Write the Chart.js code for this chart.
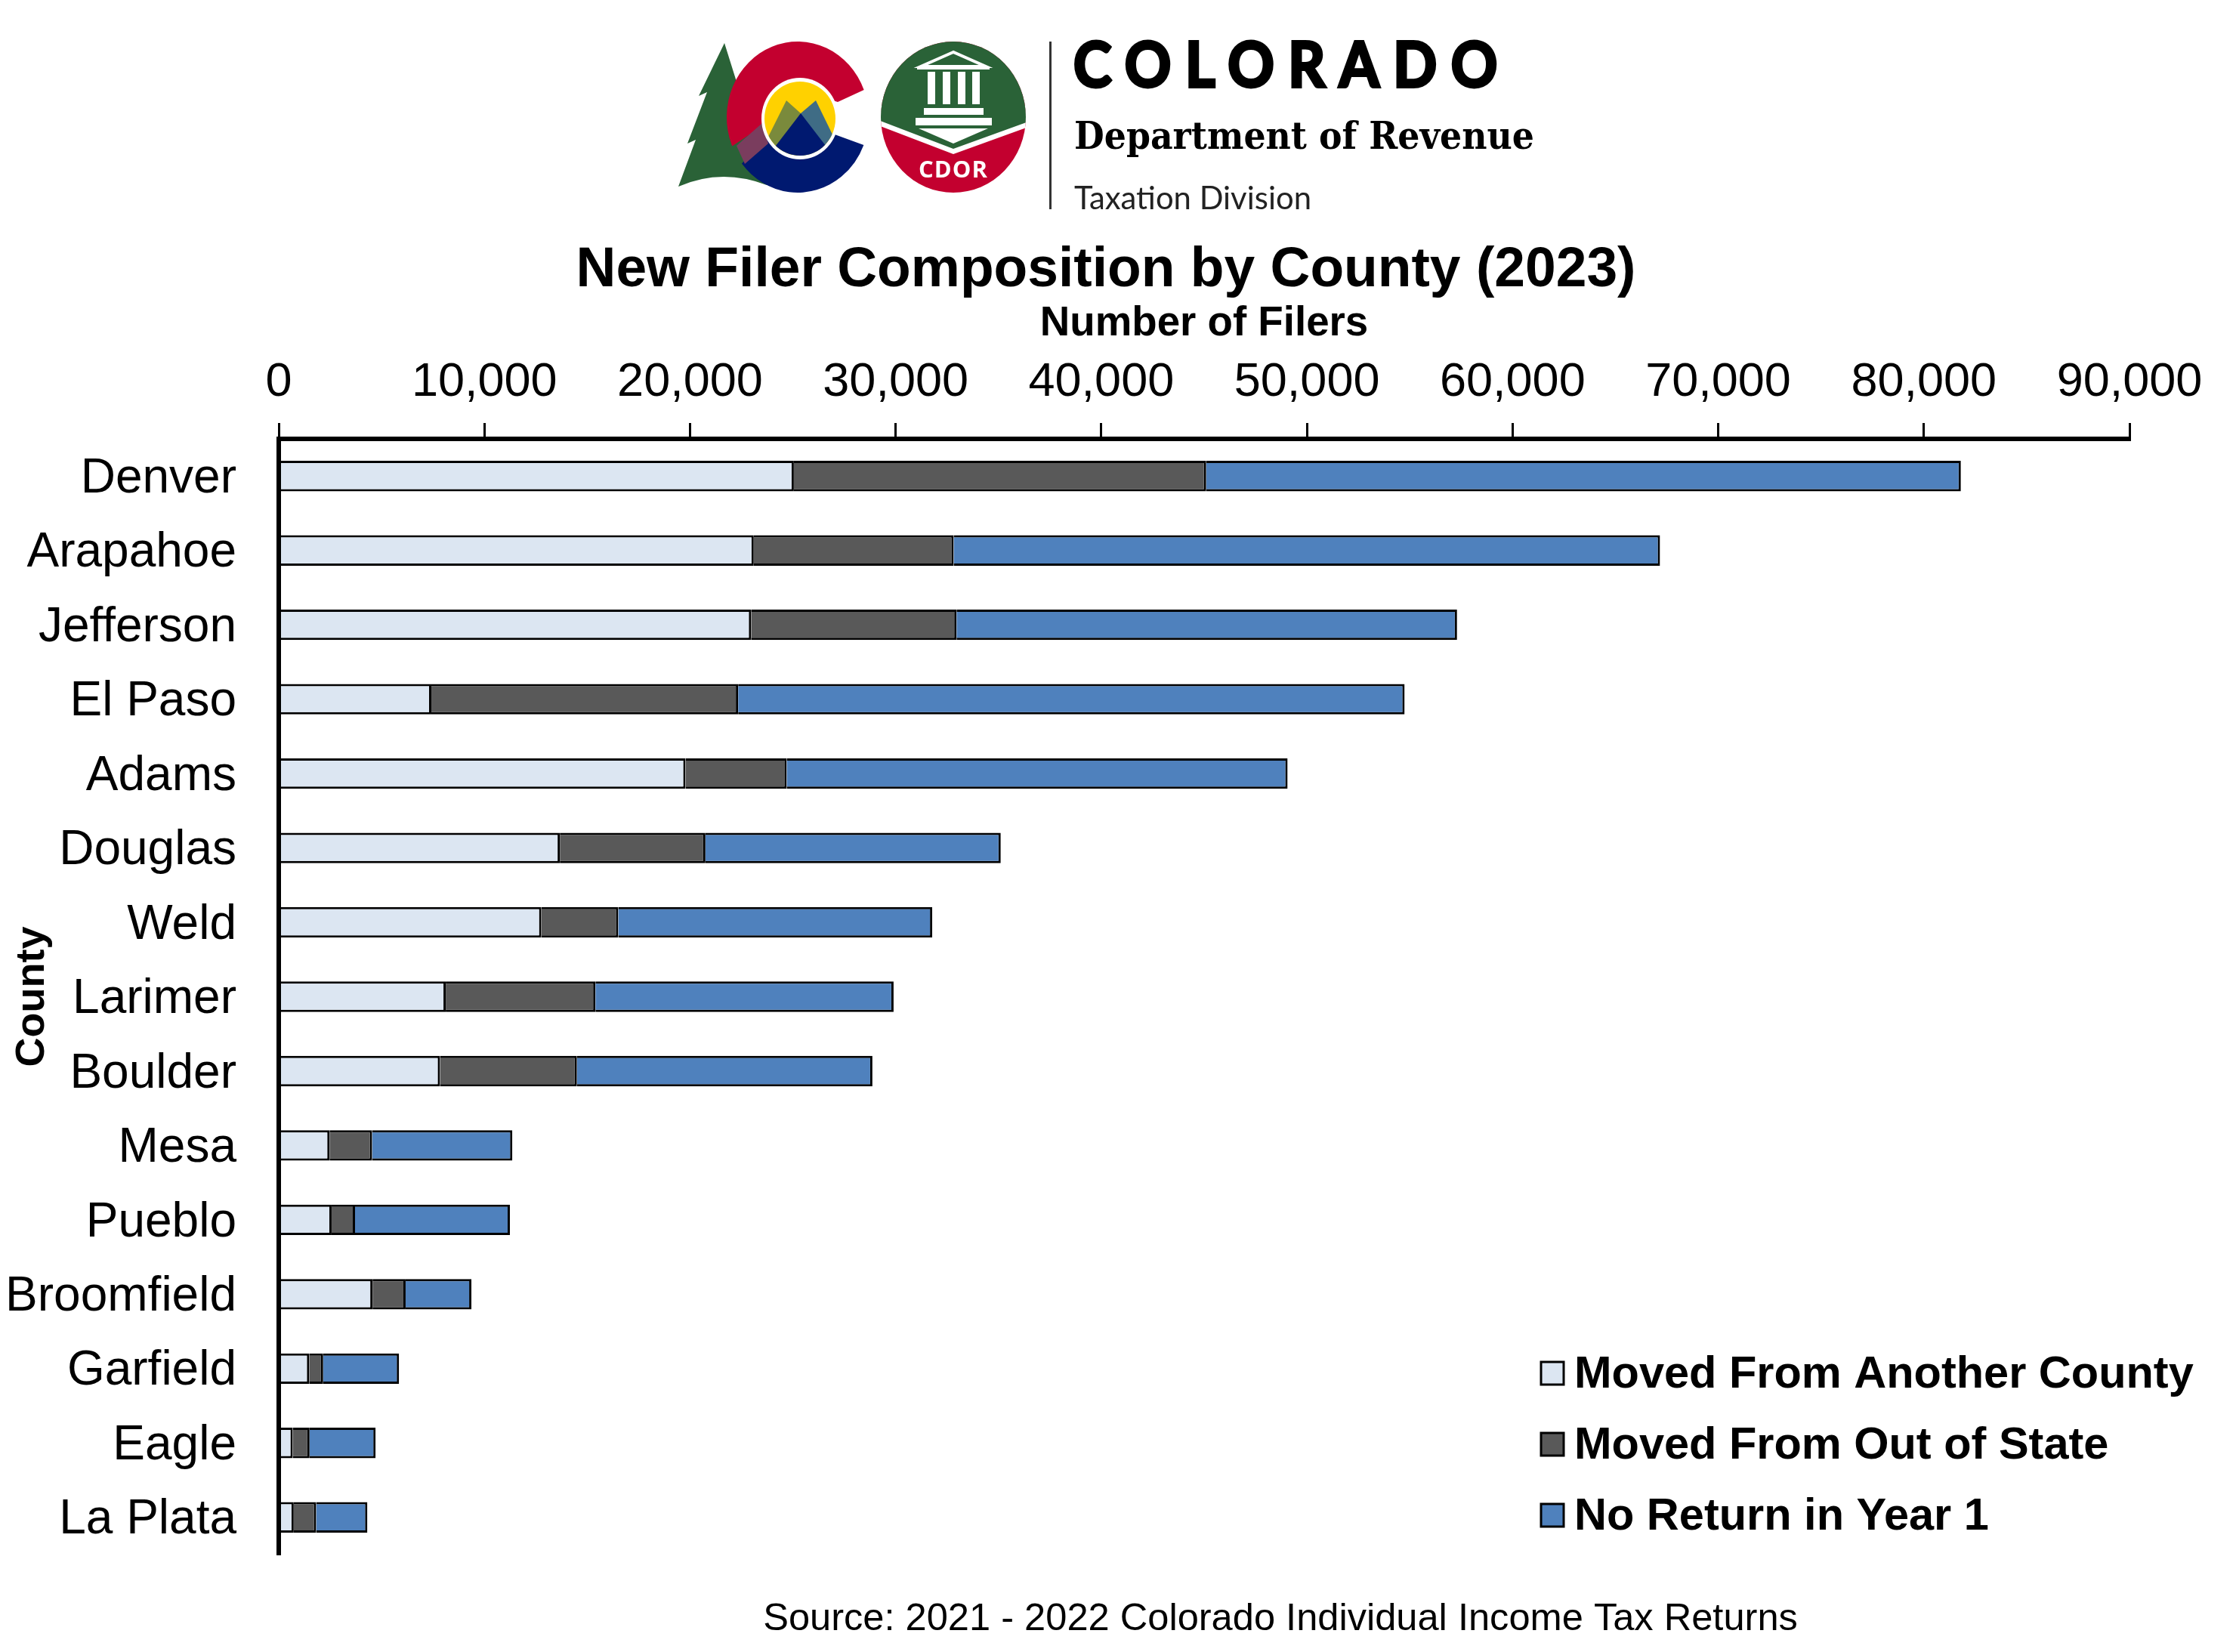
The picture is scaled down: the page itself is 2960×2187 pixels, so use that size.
<!DOCTYPE html>
<html>
<head>
<meta charset="utf-8">
<title>New Filer Composition by County (2023)</title>
<script src="https://cdn.jsdelivr.net/npm/chart.js@4"></script>
<style>
  html, body { margin: 0; padding: 0; background: #fff; }
  canvas { display: block; }
</style>
</head>
<body>
<canvas id="myChart" width="2960" height="2187"></canvas>
<script>
const counties = ['Denver', 'Arapahoe', 'Jefferson', 'El Paso', 'Adams', 'Douglas', 'Weld', 'Larimer', 'Boulder', 'Mesa', 'Pueblo', 'Broomfield', 'Garfield', 'Eagle', 'La Plata'];
const movedCounty = [25050, 23100, 22970, 7420, 19780, 13670, 12770, 8120, 7840, 2470, 2570, 4560, 1480, 680, 730];
const movedState = [20050, 9720, 9990, 14920, 4920, 7080, 3740, 7280, 6660, 2070, 1140, 1610, 680, 820, 1090];
const noReturn = [36700, 34350, 24340, 32410, 24360, 14360, 15270, 14500, 14370, 6820, 7530, 3200, 3690, 3210, 2490];

const sans = '"Liberation Sans", Arial, sans-serif';
const sourceText = 'Source: 2021 - 2022 Colorado Individual Income Tax Returns';

function poly(c, color, pts) {
  c.fillStyle = color;
  c.beginPath();
  pts.forEach((p, i) => i ? c.lineTo(p[0], p[1]) : c.moveTo(p[0], p[1]));
  c.closePath();
  c.fill();
}

function drawLogo(c) {
  c.save();
  // tree
  c.fillStyle = '#2a6237';
  c.beginPath();
  c.moveTo(959, 57);
  c.lineTo(985, 140);
  c.lineTo(1015, 245);
  c.quadraticCurveTo(955, 222, 898, 247);
  c.lineTo(921, 185);
  c.lineTo(910, 190);
  c.lineTo(936, 122);
  c.lineTo(925, 127);
  c.closePath();
  c.fill();
  // the C: red on top, navy under
  c.fillStyle = '#c3002f';
  c.beginPath();
  c.ellipse(1056, 155, 94, 100, 0, -0.369, 2.747, true);
  c.lineTo(1012, 165);
  c.lineTo(1060, 120);
  c.lineTo(1109, 135);
  c.closePath();
  c.fill();
  c.fillStyle = '#001970';
  c.beginPath();
  c.ellipse(1056, 155, 94, 100, 0, 2.478, 0.378, true);
  c.lineTo(1105, 178);
  c.lineTo(1017, 180);
  c.closePath();
  c.fill();
  poly(c, '#7a3d5e', [[1009, 163], [975, 193], [986, 217], [1017, 190]]);
  // sun and mountains inside the white ring
  c.fillStyle = '#fff';
  c.beginPath();
  c.ellipse(1059, 157, 51, 54, 0, 0, Math.PI * 2);
  c.fill();
  c.save();
  c.beginPath();
  c.ellipse(1059, 157, 47, 49, 0, 0, Math.PI * 2);
  c.clip();
  c.fillStyle = '#ffd100';
  c.fillRect(1000, 100, 120, 120);
  poly(c, '#7a8a3c', [[1041, 133], [1000, 215], [1060, 215], [1060, 150]]);
  poly(c, '#3f6c85', [[1080, 133], [1060, 150], [1060, 215], [1120, 215]]);
  poly(c, '#001970', [[1060, 150], [1010, 215], [1110, 215]]);
  c.restore();
  // CDOR badge
  c.save();
  c.beginPath();
  c.ellipse(1262, 155, 96, 100, 0, 0, Math.PI * 2);
  c.clip();
  c.fillStyle = '#c3002f';
  c.fillRect(1160, 50, 210, 210);
  poly(c, '#fff', [[1160, 165], [1262, 204], [1370, 165], [1370, 140], [1160, 140]]);
  poly(c, '#2a6237', [[1160, 50], [1370, 50], [1370, 158], [1262, 197], [1160, 158]]);
  c.restore();
  // building
  c.strokeStyle = '#fff';
  c.lineWidth = 4;
  c.beginPath();
  c.moveTo(1262, 69); c.lineTo(1219, 88); c.lineTo(1305, 88); c.closePath();
  c.stroke();
  c.fillStyle = '#fff';
  c.fillRect(1214, 88, 96, 4);
  [1233, 1253, 1273, 1292].forEach(x => c.fillRect(x - 5, 95, 10, 43));
  c.fillRect(1223, 143, 79, 9);
  c.fillRect(1212, 156, 101, 10);
  poly(c, '#fff', [[1216, 170], [1308, 170], [1262, 190]]);
  c.textAlign = 'center';
  c.textBaseline = 'alphabetic';
  c.font = 'bold 31px "Open Sans", sans-serif';
  c.letterSpacing = '1px';
  c.fillText('CDOR', 1262, 235, 96);
  // separator and wordmark
  c.fillStyle = '#333';
  c.fillRect(1389, 55, 3, 222);
  c.fillStyle = '#000';
  c.strokeStyle = '#000';
  c.textAlign = 'left';
  c.font = 'bold 82px Lato, sans-serif';
  c.letterSpacing = '20px';
  c.lineWidth = 4;
  c.fillText('COLORADO', 1421, 115, 580);
  c.strokeText('COLORADO', 1421, 115, 580);
  c.letterSpacing = '0px';
  c.font = 'bold 50px "DejaVu Serif", serif';
  c.fillText('Department of Revenue', 1422, 197, 609);
  c.fillStyle = '#222';
  c.font = '42px Lato, sans-serif';
  c.fillText('Taxation Division', 1422, 277, 314);
  c.restore();
}

const extras = {
  id: 'extras',
  afterLayout(chart) {
    // title sits a little left of the page centre
    chart.titleBlock.left = 0;
    chart.titleBlock.right = 2928;
  },
  afterDraw(chart) {
    const c = chart.ctx;
    drawLogo(c);
    // legend, taken from the datasets
    c.save();
    c.textBaseline = 'middle';
    c.textAlign = 'left';
    chart.data.datasets.forEach((ds, i) => {
      const y = 1818 + i * 94;
      c.fillStyle = ds.backgroundColor;
      c.fillRect(2040, y - 15, 30, 30);
      c.strokeStyle = '#000';
      c.lineWidth = 3;
      c.strokeRect(2040, y - 15, 30, 30);
      c.fillStyle = '#000';
      c.font = 'bold 59.5px ' + sans;
      c.fillText(ds.label, 2084, y + 3);
    });
    // source note
    c.font = '50.6px ' + sans;
    c.textAlign = 'center';
    c.fillText(sourceText, 1695, 2144);
    c.restore();
  }
};

const ctx = document.getElementById('myChart').getContext('2d');
const myChart = new Chart(ctx, {
  type: 'bar',
  plugins: [extras],
  data: {
    labels: counties,
    datasets: [
      { label: 'Moved From Another County', data: movedCounty, backgroundColor: '#dce6f2' },
      { label: 'Moved From Out of State', data: movedState, backgroundColor: '#595959' },
      { label: 'No Return in Year 1', data: noReturn, backgroundColor: '#4f81bd' }
    ].map(d => ({ ...d, borderColor: '#000', borderWidth: 3, barPercentage: 0.41, categoryPercentage: 1 }))
  },
  options: {
    indexAxis: 'y',
    responsive: false,
    animation: false,
    color: '#000',
    layout: { padding: { top: 0, left: 0, right: 141, bottom: 129 } },
    plugins: {
      legend: { display: false },
      tooltip: { enabled: false },
      title: {
        display: true,
        text: 'New Filer Composition by County (2023)',
        color: '#000',
        font: { family: sans, size: 73.2, weight: 'bold', lineHeight: 1 },
        padding: { top: 322, bottom: 0 }
      }
    },
    scales: {
      x: {
        position: 'top',
        stacked: true,
        min: 0,
        max: 90000,
        afterFit: s => { s.height = 185.8; },
        title: {
          display: true,
          text: 'Number of Filers',
          color: '#000',
          font: { family: sans, size: 54.7, weight: 'bold' },
          padding: { top: 1, bottom: 0 }
        },
        border: { color: '#000', width: 6, z: 1 },
        grid: { drawOnChartArea: false, color: '#000', tickLength: 21, lineWidth: 3 },
        ticks: {
          stepSize: 10000,
          color: '#000',
          maxRotation: 0,
          autoSkip: false,
          padding: 16,
          font: { family: sans, size: 63 },
          callback: v => v.toLocaleString('en-US')
        }
      },
      y: {
        stacked: true,
        afterFit: s => { s.width = 369; },
        title: {
          display: true,
          text: 'County',
          color: '#000',
          font: { family: sans, size: 54, weight: 'bold' },
          padding: { top: 11, bottom: 0 }
        },
        border: { color: '#000', width: 6, z: 1 },
        grid: { drawOnChartArea: false, drawTicks: false },
        ticks: {
          color: '#000',
          autoSkip: false,
          padding: 56,
          labelOffset: 4,
          font: { family: sans, size: 64 }
        }
      }
    }
  }
});
</script>
</body>
</html>
